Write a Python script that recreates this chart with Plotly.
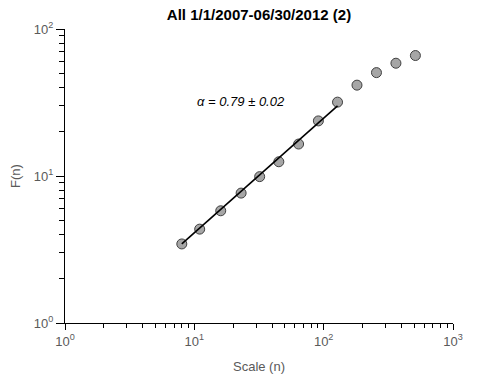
import plotly.graph_objects as go

# data
scale_n = [8, 11, 16, 23, 32, 45, 64, 91, 128, 181, 256, 362, 512]
f_n = [3.45, 4.35, 5.8, 7.65, 9.9, 12.5, 16.5, 23.7, 31.8, 41.5, 50.5, 58.5, 66.0]
fit_x = [8, 128]
fit_y = [3.45, 30.0]
alpha_text = "α = 0.79 ± 0.02"
title_text = "All 1/1/2007-06/30/2012 (2)"
x_major = [1, 10, 100, 1000]
x_labels = ["10<sup>0</sup>", "10<sup>1</sup>", "10<sup>2</sup>", "10<sup>3</sup>"]
y_major = [1, 10, 100]
y_labels = ["10<sup>0</sup>", "10<sup>1</sup>", "10<sup>2</sup>"]

def minors(lo, hi):
    out = []
    d = lo
    while d < hi:
        out += [k * d for k in range(2, 10)]
        d *= 10
    return out

fig = go.Figure()
fig.add_trace(go.Scatter(
    x=scale_n, y=f_n, mode="markers",
    marker=dict(size=10, color="#a6a6a6", line=dict(color="#404040", width=1)),
    showlegend=False,
))
fig.add_trace(go.Scatter(
    x=fit_x, y=fit_y, mode="lines",
    line=dict(color="black", width=1.6), showlegend=False,
))
fig.add_annotation(x=1.36, y=1.505, xref="x", yref="y", text=alpha_text,
                   showarrow=False, font=dict(family="Liberation Sans", size=13, color="black", style="italic"))

axis_font = dict(family="Liberation Sans", size=13, color="#5a5a5a")
fig.update_xaxes(type="log", range=[0, 3], tickvals=x_major, ticktext=x_labels, automargin=False,
                 ticks="outside", ticklen=6, tickcolor="black", showline=True, linecolor="black",
                 linewidth=1, showgrid=False, zeroline=False, tickfont=axis_font,
                 title=dict(text="Scale (n)", font=axis_font, standoff=14),
                 minor=dict(tickvals=minors(1, 1000), ticks="outside", ticklen=4, tickcolor="black", showgrid=False))
fig.update_yaxes(type="log", range=[0, 2], tickvals=y_major, ticktext=y_labels, automargin=False,
                 ticks="outside", ticklen=8, tickcolor="black", showline=True, linecolor="black",
                 linewidth=1, showgrid=False, zeroline=False, tickfont=axis_font,
                 title=dict(text="F(n)", font=axis_font, standoff=10),
                 minor=dict(tickvals=minors(1, 100), ticks="outside", ticklen=5, tickcolor="black", showgrid=False))
fig.update_layout(
    width=500, height=375,
    margin=dict(l=65, r=47, t=29, b=52),
    plot_bgcolor="white", paper_bgcolor="white",
    title=dict(text="<b>" + title_text + "</b>", x=0.518, xanchor="center", y=0.962, yanchor="middle",
               font=dict(family="Liberation Sans", size=15, color="black")),
)
fig.write_html("out.html")
